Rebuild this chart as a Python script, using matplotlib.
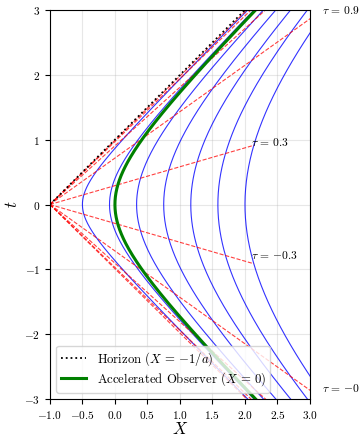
import numpy as np
import matplotlib
matplotlib.use("Agg")
import matplotlib.pyplot as plt

plt.rcParams["font.family"] = "serif"
plt.rcParams["font.serif"] = ["cmr10", "DejaVu Serif"]
plt.rcParams["mathtext.fontset"] = "cm"
plt.rcParams["axes.formatter.use_mathtext"] = True

a = 1.0
# constant-xi curves, rho = exp(a*xi)/a
rho_values = [0.5, 0.9167, 1.3333, 1.75, 2.1667, 2.5833, 3.0]
# constant-tau lines
tau_values = [-2.7, -2.1, -1.5, -0.9, -0.3, 0.3, 0.9, 1.5, 2.1, 2.7]
tau_labeled = [-0.9, -0.3, 0.3, 0.9]
rho_max = 3.0
rho_label = 2.84
x_ticks = [-1.0, -0.5, 0.0, 0.5, 1.0, 1.5, 2.0, 2.5, 3.0]
t_ticks = [-3, -2, -1, 0, 1, 2, 3]

fig = plt.figure(figsize=(3.59, 4.37), dpi=100)
ax = fig.add_axes([0.139, 0.087, 0.7245, 0.89])

eta = np.linspace(-2.5, 2.5, 400)
for rho in rho_values:
    ax.plot(rho * np.cosh(eta) - 1 / a, rho * np.sinh(eta), color="b", lw=0.8, alpha=0.8)

rr = np.linspace(0, rho_max, 100)
for tau in tau_values:
    ax.plot(rr * np.cosh(a * tau) - 1 / a, rr * np.sinh(a * tau), "r--", lw=0.8, alpha=0.75)

for tau in tau_labeled:
    xl = rho_label * np.cosh(a * tau) - 1 / a
    tl = rho_label * np.sinh(a * tau)
    ax.annotate(r"$\tau\,=\,{%s}$" % tau, (xl, tl), xytext=(5.5, 4.3),
                textcoords="offset points", fontsize=8.3, ha="left", va="center",
                annotation_clip=False)

xh = np.linspace(-1.0, 2.1, 50)
ax.plot(xh, xh + 1 / a, "k:", lw=1.3, label=r"Horizon ($X\,=\,{-1/a}$)")

ax.plot(np.cosh(eta) / a - 1 / a, np.sinh(eta) / a, color="g", lw=2.2,
        label=r"Accelerated Observer ($X\,=\,0$)")

ax.set_xlim(-1, 3)
ax.set_ylim(-3, 3)
ax.set_xticks(x_ticks)
ax.set_yticks(t_ticks)
ax.tick_params(labelsize=8.2)
ax.set_xlabel(r"$X$", fontsize=12, labelpad=0)
ax.set_ylabel(r"$t$", fontsize=12, labelpad=3)
ax.grid(True, alpha=0.3)
ax.legend(loc="lower left", fontsize=9.2, labelspacing=0.2, borderpad=0.35)

fig.savefig("out.png", dpi=100)
